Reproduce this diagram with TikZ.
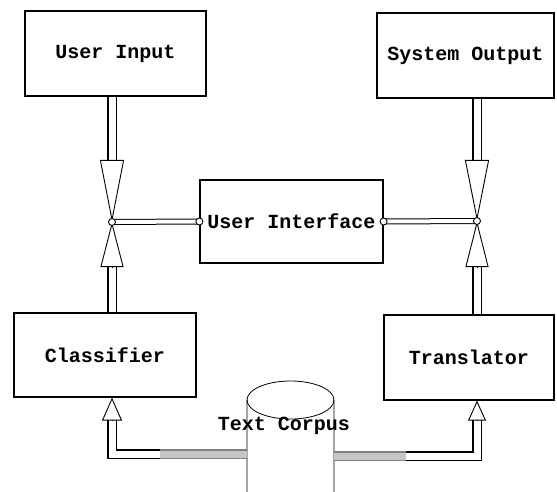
\documentclass[tikz,border=0pt]{standalone}
\usepackage{fontspec}
\setmonofont{Liberation Mono}
\usetikzlibrary{arrows.meta,calc}

\tikzset{
  bloque/.style={draw, line width=1.2pt, inner sep=0pt, font=\ttfamily\bfseries\fontsize{20}{22}\selectfont},
  texto/.style={font=\ttfamily\bfseries\fontsize{20}{22}\selectfont},
  tubo/.style={draw=black, line width=1.1pt, double=white, double distance=7pt},
  enlace/.style={draw=black, line width=1pt, double=white, double distance=4pt},
  punta/.style 2 args={line width=0.9pt, -{Triangle[open, length=#1, width=#2]}},
  nudo/.style={draw, fill=white, line width=0.9pt}
}

\begin{document}
\begin{tikzpicture}[x=1pt, y=-1pt]
  \useasboundingbox (0,0) rectangle (557,492);

  % Bloques
  \node[bloque, minimum width=181pt, minimum height=85pt] (inp) at (115.5,53.5) {User Input};
  \node[bloque, minimum width=177pt, minimum height=85pt] (out) at (465.5,55.5) {System Output};
  \node[bloque, minimum width=183pt, minimum height=83pt] (ui) at (291.5,221.5) {User Interface};
  \node[bloque, minimum width=182pt, minimum height=84pt] (cls) at (105,355) {Classifier};
  \node[bloque, minimum width=170pt, minimum height=85pt] (trn) at (469,357.5) {Translator};

  % Cilindro del corpus
  \draw[line width=0.8pt] (247,500) -- (247,400) arc[start angle=180, end angle=360, x radius=43.5, y radius=19] -- (334,500);
  \draw[line width=0.8pt] (247,400) arc[start angle=180, end angle=0, x radius=43.5, y radius=19];
  \node[texto] (crp) at (284,426) {Text Corpus};
  \coordinate (crpl) at (247,454);
  \coordinate (crpr) at (334,456);

  % Uniones
  \coordinate (jl) at (112,222);
  \coordinate (jr) at (477,221);

  % Lado izquierdo
  \draw[tubo] (inp.south -| jl) -- ($(jl)+(0,-61)$);
  \draw[punta={62pt}{24pt}] ($(jl)+(0,-62)$) -- (jl);
  \draw[tubo] (cls.north -| jl) -- ($(jl)+(0,44)$);
  \draw[punta={45pt}{23pt}] ($(jl)+(0,45)$) -- (jl);

  % Lado derecho
  \draw[tubo] (out.south -| jr) -- ($(jr)+(0,-60)$);
  \draw[punta={61pt}{24pt}] ($(jr)+(0,-61)$) -- (jr);
  \draw[tubo] (trn.north -| jr) -- ($(jr)+(0,45)$);
  \draw[punta={46pt}{23pt}] ($(jr)+(0,46)$) -- (jr);

  % Enlaces con la interfaz
  \draw[enlace] (jl) -- (ui.west);
  \draw[enlace] (ui.east) -- (jr);
  \foreach \p in {jl, jr, ui.west, ui.east}
    \draw[nudo] (\p) circle[radius=3.5];

  % Corpus hacia abajo
  \draw[tubo] (crpl) -| ($(cls.south -| jl)+(0,22)$);
  \draw[tubo, draw=gray, double=gray!45] (crpl) -- ($(crpl)+(-87,0)$);
  \draw[punta={23pt}{20pt}] ($(cls.south -| jl)+(0,23)$) -- (cls.south -| jl);
  \draw[tubo] (crpr) -| ($(trn.south -| jr)+(0,19)$);
  \draw[tubo, draw=gray, double=gray!45] (crpr) -- ($(crpr)+(72,0)$);
  \draw[punta={20pt}{18pt}] ($(trn.south -| jr)+(0,20)$) -- (trn.south -| jr);
\end{tikzpicture}
\end{document}
